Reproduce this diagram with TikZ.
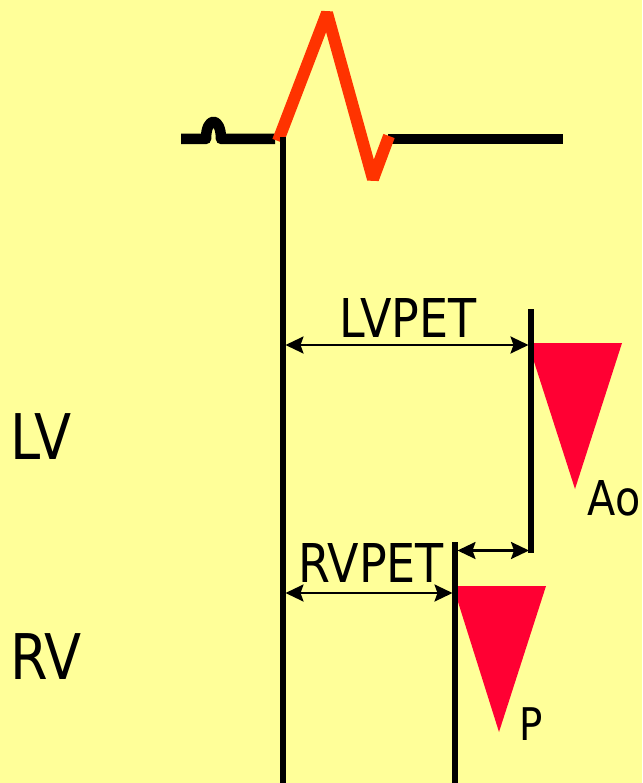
\documentclass[tikz,border=0pt]{standalone}
\usepackage{fontspec}
\setmainfont{DejaVu Sans}
\usetikzlibrary{arrows.meta}
\definecolor{bgyellow}{HTML}{FFFF99}
\definecolor{qrsred}{HTML}{FF3300}
\definecolor{trired}{HTML}{FF0033}
\begin{document}
\begin{tikzpicture}[x=1pt,y=-1pt,
  ecgk/.style={line width=10.5pt, black, line cap=butt, line join=round},
  ecgr/.style={line width=12pt, qrsred, line cap=butt, line join=bevel},
  vline/.style={line width=5.5pt, black, line cap=butt},
  dim/.style={line width=2.4pt, black, {Stealth[length=18pt,width=17pt,inset=3pt]}-{Stealth[length=18pt,width=17pt,inset=3pt]}},
  tri/.style={fill=trired, draw=none},
  lbl/.style={inner sep=0pt, anchor=base, xscale=0.86}]
\fill[bgyellow] (0,0) rectangle (642,783);
\useasboundingbox (0,0) rectangle (642,783);
% ECG
\draw[ecgk] (181,139) -- (206,139) .. controls (206,116) and (221,116) .. (221,139) -- (275,139);
\draw[ecgk] (388,139) -- (563,139);
\draw[ecgr] (278,141) -- (327,13) -- (373,179) -- (389,136);
% triangles
\fill[tri] (528,343) -- (622,343) -- (575,489) -- cycle;
\fill[tri] (453,586) -- (546,586) -- (499,732) -- cycle;
% vertical lines
\coordinate (t1) at (283,137); \coordinate (b1) at (283,783);
\coordinate (t2) at (531,309); \coordinate (b2) at (531,553);
\coordinate (t3) at (455,542); \coordinate (b3) at (455,783);
\draw[vline] (t1) -- (b1);
\draw[vline] (t2) -- (b2);
\draw[vline] (t3) -- (b3);
% dimension arrows
\coordinate (lva) at (285.5,345); \coordinate (lvb) at (528.5,345);
\coordinate (rva) at (285.5,593); \coordinate (rvb) at (452.5,593);
\coordinate (da) at (457.5,550.5); \coordinate (db) at (529,550.5);
\draw[dim] (lva) -- (lvb);
\draw[dim] (rva) -- (rvb);
\draw[dim] (da) -- (db);
% labels
\node[lbl, font=\fontsize{53.5}{60}\selectfont] (lvpet) at (408,337) {LVPET};
\node[lbl, font=\fontsize{53.5}{60}\selectfont] (rvpet) at (371,582) {RVPET};
\node[lbl, font=\fontsize{63}{70}\selectfont] (lv) at (41,459) {LV};
\node[lbl, font=\fontsize{63}{70}\selectfont] (rv) at (46,679) {RV};
\node[lbl, font=\fontsize{48}{54}\selectfont] (ao) at (614,515) {Ao};
\node[lbl, font=\fontsize{45}{50}\selectfont] (p) at (531,740) {P};
\end{tikzpicture}
\end{document}
